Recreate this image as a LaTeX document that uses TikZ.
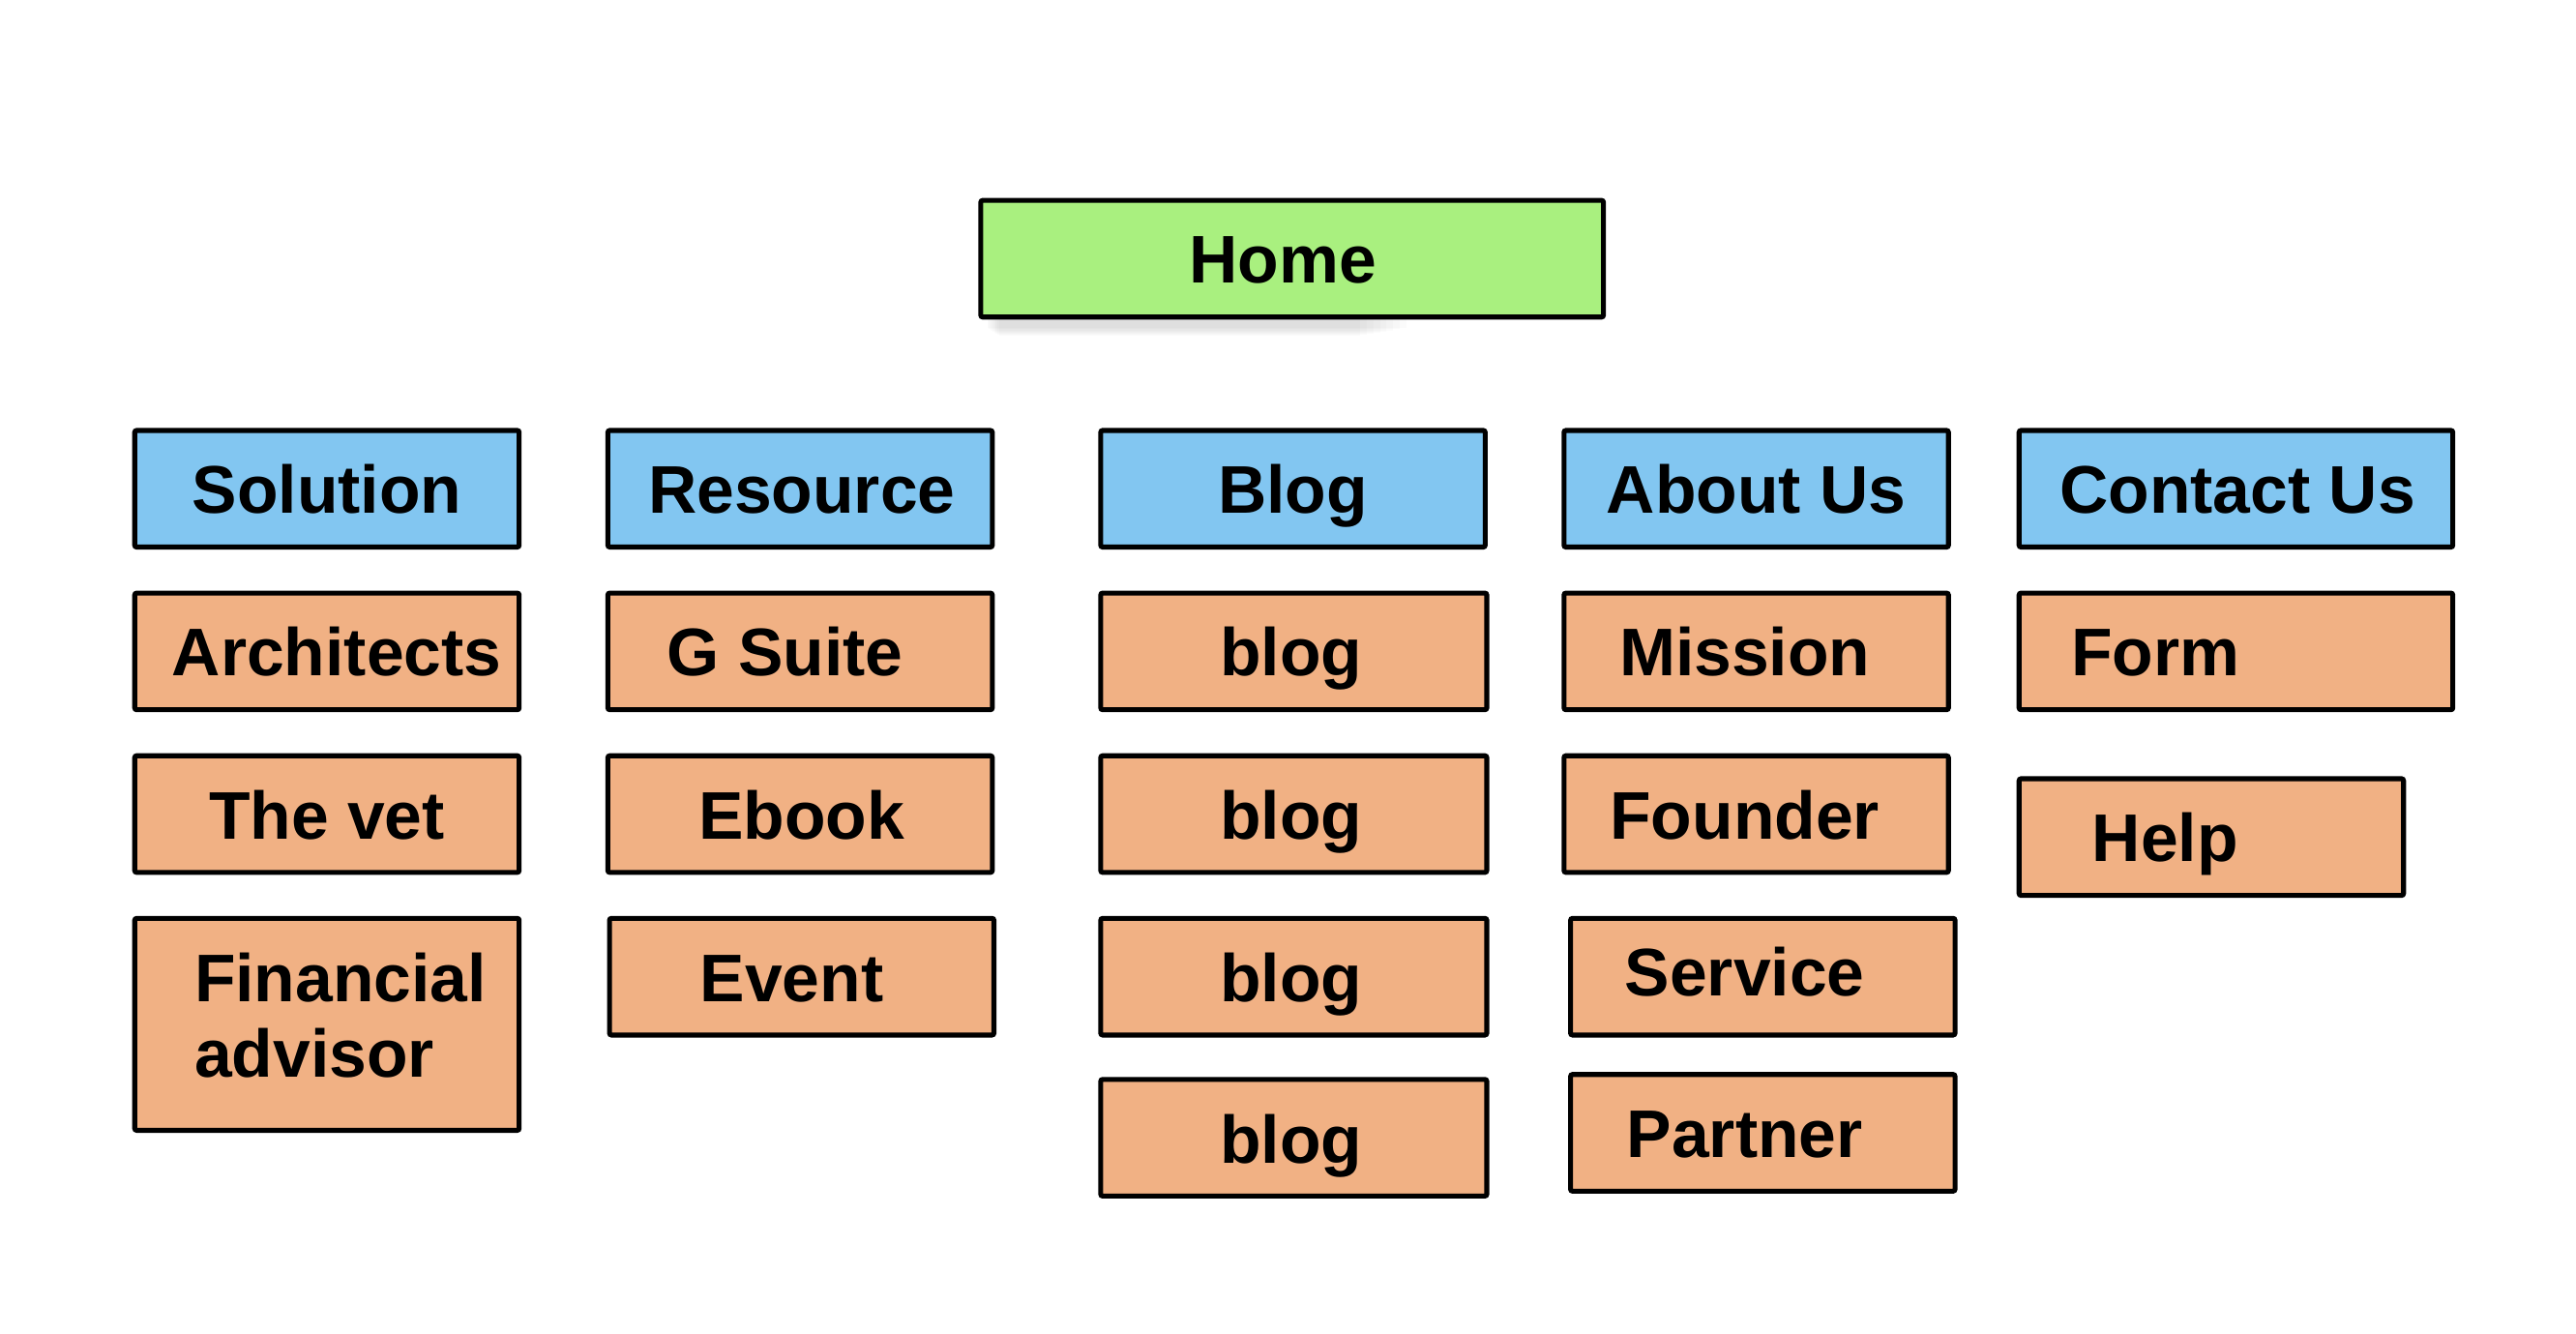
\documentclass[tikz,border=0pt]{standalone}
\usepackage{fontspec}
\setmainfont{Liberation Sans}
\definecolor{homegreen}{HTML}{A9F07F}
\definecolor{navblue}{HTML}{82C6F1}
\definecolor{pageorange}{HTML}{F1B184}
\newcommand\mybox[5]{\draw[box,fill=#5] (#1,#2) rectangle (#3,#4);}
\begin{document}
\begin{tikzpicture}[x=0.5pt,y=-0.5pt,
  box/.style={draw=black, line width=1.5pt, rounded corners=0.6pt},
  lbl/.style={font=\fontsize{20.5}{24}\bfseries\selectfont, anchor=base, inner sep=0pt},
  lblw/.style={lbl, anchor=base west}]
\useasboundingbox (0,0) rectangle (1568,811.4);
\fill[white] (0,0) rectangle (1568,811.4);
% soft shadow under Home
\foreach \d in {1,2,...,8}{
  \fill[black, opacity=0.016] (600+\d,126+\d*0.6) rectangle (860-\d*4,199+\d*0.7);
}
\mybox{597}{122}{976}{193}{homegreen}
\node[lbl] (home) at (781,172.5) {Home};
% row 1
\mybox{82}{262}{316}{333}{navblue}
\mybox{370}{262}{604}{333}{navblue}
\mybox{670}{262}{904}{333}{navblue}
\mybox{952}{262}{1186}{333}{navblue}
\mybox{1229}{262}{1493}{333}{navblue}
\node[lbl] (solution) at (199,312.5) {Solution};
\node[lbl] (resource) at (488,312.5) {Resource};
\node[lbl] (blog) at (787,312.5) {Blog};
\node[lbl] (about) at (1069,312.5) {About Us};
\node[lbl] (contact) at (1362,312.5) {Contact Us};
% row 2
\mybox{82}{361}{316}{432}{pageorange}
\mybox{370}{361}{604}{432}{pageorange}
\mybox{670}{361}{905}{432}{pageorange}
\mybox{952}{361}{1186}{432}{pageorange}
\mybox{1229}{361}{1493}{432}{pageorange}
\node[lbl] (architects) at (205,411.5) {Architects};
\node[lbl] (gsuite) at (478,411.5) {G Suite};
\node[lbl] (blogA) at (786,411.5) {blog};
\node[lbl] (mission) at (1062,411.5) {Mission};
\node[lbl] (form) at (1312,411.5) {Form};
% row 3
\mybox{82}{460}{316}{531}{pageorange}
\mybox{370}{460}{604}{531}{pageorange}
\mybox{670}{460}{905}{531}{pageorange}
\mybox{952}{460}{1186}{531}{pageorange}
\mybox{1229}{474}{1463}{545}{pageorange}
\node[lbl] (thevet) at (199,510.5) {The vet};
\node[lbl] (ebook) at (488,510.5) {Ebook};
\node[lbl] (blogB) at (786,510.5) {blog};
\node[lbl] (founder) at (1062,510.5) {Founder};
\node[lbl] (help) at (1318,524.5) {Help};
% row 4
\mybox{82}{559}{316}{688}{pageorange}
\mybox{371}{559}{605}{630}{pageorange}
\mybox{670}{559}{905}{630}{pageorange}
\mybox{956}{559}{1190}{630}{pageorange}
\node[lblw] (financial) at (118,609.5) {Financial};
\node[lblw] (advisor) at (118,655.5) {advisor};
\node[lbl] (event) at (482,609.5) {Event};
\node[lbl] (blogC) at (786,609.5) {blog};
\node[lbl] (service) at (1062,606) {Service};
% row 5
\mybox{670}{657}{905}{728}{pageorange}
\mybox{956}{654}{1190}{725}{pageorange}
\node[lbl] (blogD) at (786,708) {blog};
\node[lbl] (partner) at (1062,704.5) {Partner};
\end{tikzpicture}
\end{document}
